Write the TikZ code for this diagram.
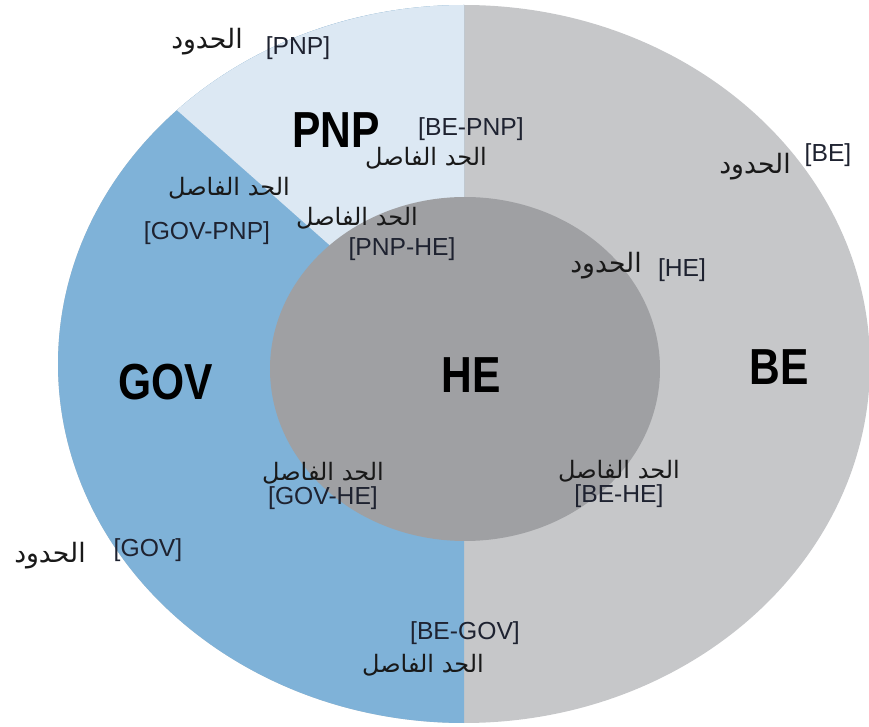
\documentclass[tikz,border=0pt]{standalone}
\usepackage{fontspec}
\setmainfont{Liberation Sans}
\newfontfamily\arabicfont[Script=Arabic]{DejaVu Sans}
\newfontfamily\areafont[FakeStretch=0.84]{Liberation Sans}
\TeXXeTstate=1
\usetikzlibrary{positioning}
\definecolor{pnpblue}{HTML}{DCE8F3}
\definecolor{govblue}{HTML}{7FB2D8}
\definecolor{begray}{HTML}{C6C7C9}
\definecolor{hegray}{HTML}{9FA0A3}
\definecolor{tagtext}{HTML}{1E2230}
\tikzset{
	area/.style={font=\areafont\bfseries\fontsize{38}{40}\selectfont, inner sep=0pt},
	tag/.style={font=\fontsize{18.5}{20}\selectfont, text=tagtext, inner sep=0pt},
	artext/.style={font=\arabicfont\fontsize{18}{20}\selectfont, text=black!90, inner sep=0pt}
}
\newcommand{\hudud}{{\fontsize{20}{22}\selectfont\beginR الحدود\endR}}
\newcommand{\fasil}{\beginR الحد الفاصل\endR}

\begin{document}
\begin{tikzpicture}[x=0.75pt,y=0.75pt]
	\useasboundingbox (0,0) rectangle (869,726);
	\coordinate (c) at (464,362);
	\coordinate (ci) at (465,357);

	% rings
	\fill[begray] (c) ellipse [x radius=406, y radius=359];
	\fill[govblue] (c) ++(0,359) arc [start angle=90, end angle=270, x radius=406, y radius=359] -- cycle;
	\fill[pnpblue] (c) -- ++(0,359) arc [start angle=90, end angle=135, x radius=406, y radius=359] -- cycle;
	\fill[hegray] (ci) ellipse [x radius=195, y radius=172];

	% areas
	\node[area] (pnp) at (336,596) {PNP};
	\node[area] (gov) at (166,344) {GOV};
	\node[area] (he) at (471,351) {HE};
	\node[area] (be) at (779,359) {BE};

	% boundaries
	\node[tag] (pnpbd) at (298,678) {[PNP]};
	\node[artext] (pnpar) at (207,684) {\hudud};
	\node[tag] (bebd) at (828,571) {[BE]};
	\node[artext] (bear) at (755,559) {\hudud};
	\node[tag] (hebd) at (682,456) {[HE]};
	\node[artext] (hear) at (606,460) {\hudud};
	\node[tag] (govbd) at (148,176) {[GOV]};
	\node[artext] (govar) at (50,170) {\hudud};

	% borders
	\node[tag] (bepnp) at (471,597) {[BE-PNP]};
	\node[artext] (bepnpar) at (426,568) {\fasil};
	\node[tag] (govpnp) at (207,493) {[GOV-PNP]};
	\node[artext] (govpnpar) at (229,538) {\fasil};
	\node[tag] (pnphe) at (402,477) {[PNP-HE]};
	\node[artext] (pnphear) at (357,508) {\fasil};
	\node[tag] (govhe) at (323,228) {[GOV-HE]};
	\node[artext, above=1pt of govhe] (govhear) {\fasil};
	\node[tag] (behe) at (619,230) {[BE-HE]};
	\node[artext, above=1pt of behe] (behear) {\fasil};
	\node[tag] (begov) at (465,93) {[BE-GOV]};
	\node[artext] (begovar) at (423,61) {\fasil};
\end{tikzpicture}
\end{document}
